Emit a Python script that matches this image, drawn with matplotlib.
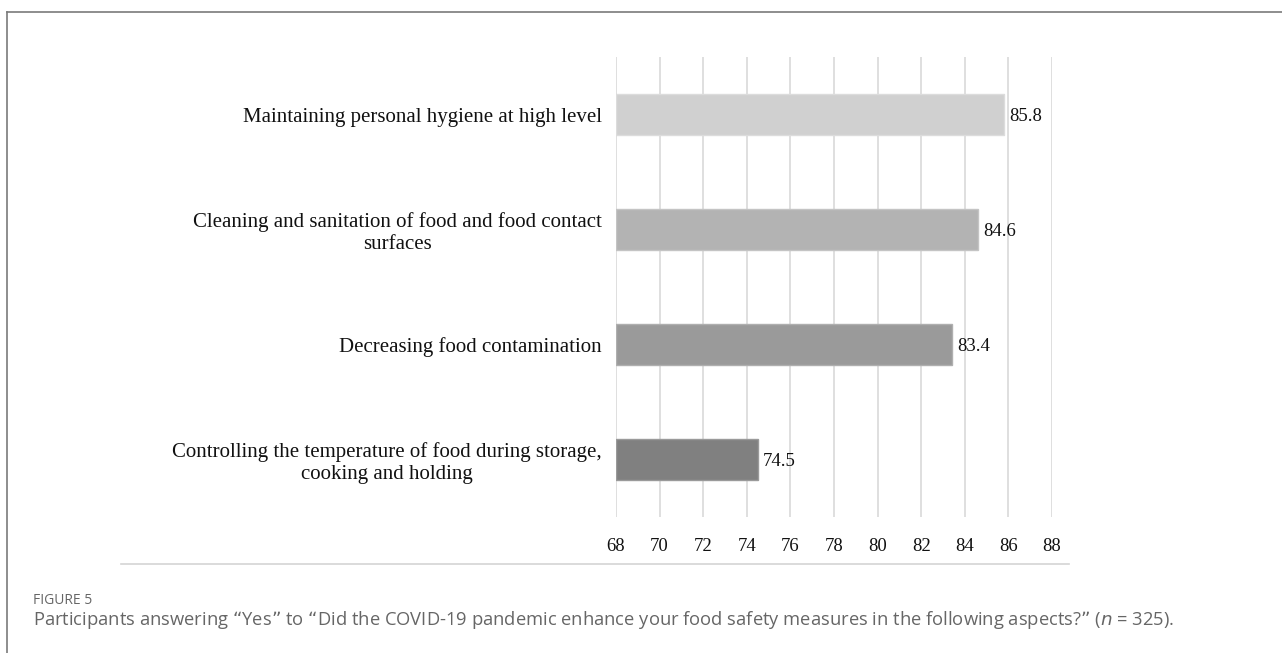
import matplotlib.pyplot as plt
from matplotlib.lines import Line2D

# share of participants answering "Yes" (%)
measures = [
    "Maintaining personal hygiene at high level",
    "Cleaning and sanitation of food and food contact\nsurfaces",
    "Decreasing food contamination",
    "Controlling the temperature of food during storage,\ncooking and holding",
]
percent_yes = [85.8, 84.6, 83.4, 74.5]
bar_colors = ["#d0d0d0", "#b3b3b3", "#9a9a9a", "#808080"]
edge_colors = ["#dcdcdc", "#c4c4c4", "#afafaf", "#9a9a9a"]
x_ticks = list(range(68, 89, 2))

serif = ["Liberation Serif", "DejaVu Serif"]
sans = ["Open Sans", "DejaVu Sans"]

fig = plt.figure(figsize=(12.82, 6.53), dpi=100)
ax = fig.add_axes([0.4805, 0.2083, 0.3401, 0.7044])

y = list(range(len(measures)))
ax.barh(y, [v - 68 for v in percent_yes], left=68, height=0.36,
        color=bar_colors, edgecolor=edge_colors, linewidth=1, zorder=2)

for yi, v in zip(y, percent_yes):
    ax.text(v + 0.25, yi + 0.02, f"{v}", va="center", ha="left",
            fontsize=13.5, family=serif, color="#111111")

ax.set_xlim(68, 88)
ax.set_ylim(3.5, -0.5)
ax.set_xticks(x_ticks)
ax.set_xticklabels([str(t) for t in x_ticks], family=serif, fontsize=13.5)
ax.set_yticks(y)
ax.set_yticklabels(measures, family=serif, fontsize=15, multialignment="center",
                   linespacing=1.15)
ax.tick_params(axis="both", length=0, colors="#111111")
ax.tick_params(axis="x", pad=15)
ax.tick_params(axis="y", pad=10)
ax.grid(axis="x", color="#d9d9d9", linewidth=1.2, zorder=0)
ax.set_axisbelow(True)
for s in ax.spines.values():
    s.set_visible(False)

W, H = 1282, 653
# rule under the chart
fig.add_artist(Line2D([121 / W, 1069 / W], [1 - 564 / H, 1 - 564 / H],
                      color="#d4d4d4", linewidth=1.2))
# page frame
fig.add_artist(Line2D([7 / W, 7 / W], [0, 1 - 12 / H], color="#7a7a7a", linewidth=1.2))
fig.add_artist(Line2D([7 / W, 1], [1 - 12 / H, 1 - 12 / H], color="#7a7a7a", linewidth=1.2))

fig.text(33 / W, 1 - 600 / H, "FIGURE 5", family=["Liberation Sans Narrow", "Open Sans"],
         fontsize=10, color="#666666", va="center")
fig.text(33 / W, 1 - 620 / H,
         "Participants answering \u201cYes\u201d to \u201cDid the COVID-19 pandemic enhance "
         "your food safety measures in the following aspects?\u201d ($n$ = 325).",
         family=sans, fontsize=13.25, color="#666666", va="center")

fig.savefig("out.png", dpi=100)
